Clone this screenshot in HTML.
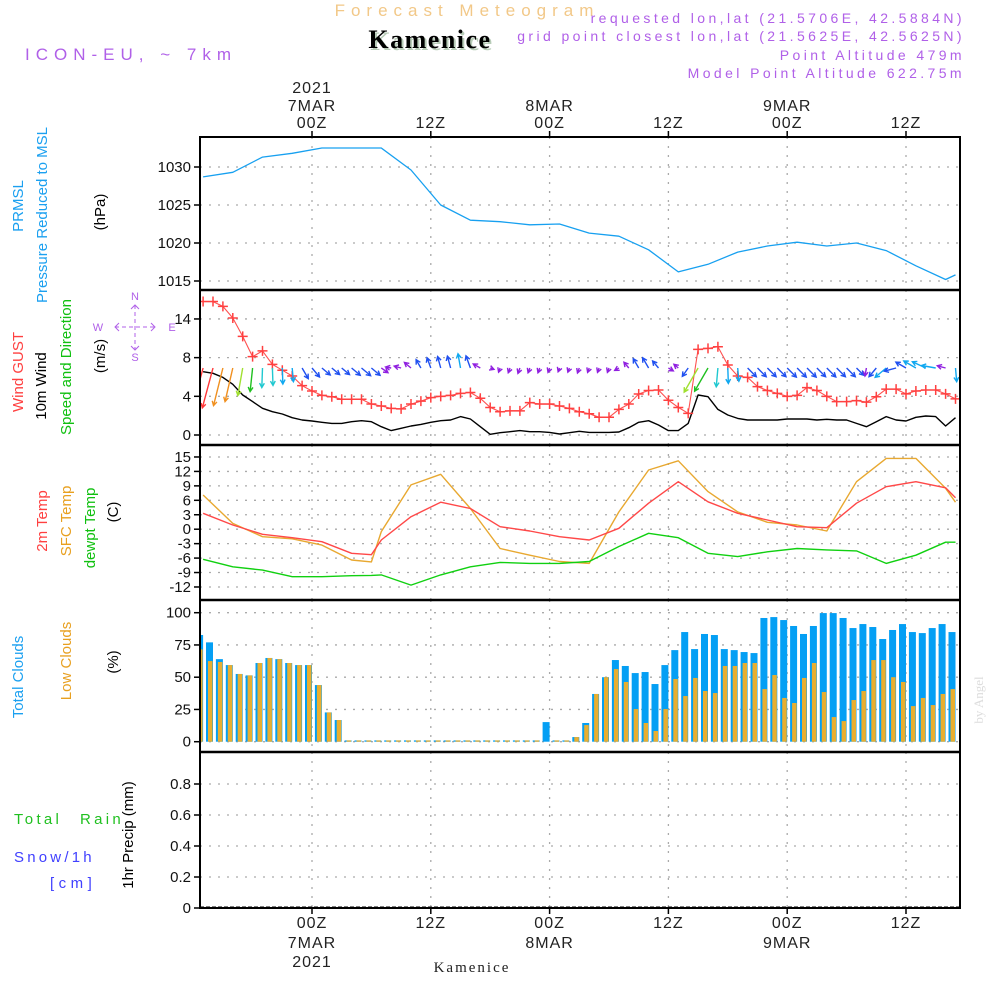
<!DOCTYPE html>
<html><head><meta charset="utf-8"><style>
html,body{margin:0;padding:0;background:#fff;}
svg text{font-family:"Liberation Sans",sans-serif;}
</style></head><body>
<svg id="chart" width="1000" height="1000" viewBox="0 0 1000 1000" xmlns="http://www.w3.org/2000/svg">
<rect width="1000" height="1000" fill="#fff"/>
<text x="467" y="16" text-anchor="middle" font-size="17" fill="#f2c888" letter-spacing="6">Forecast Meteogram</text>
<text x="965" y="23" text-anchor="end" font-size="14" fill="#b060e8" letter-spacing="3.4">requested lon,lat (21.5706E, 42.5884N)</text>
<text x="965" y="41" text-anchor="end" font-size="14" fill="#b060e8" letter-spacing="3.4">grid point closest lon,lat (21.5625E, 42.5625N)</text>
<text x="965" y="60" text-anchor="end" font-size="14" fill="#b060e8" letter-spacing="3.4">Point Altitude 479m</text>
<text x="965" y="78" text-anchor="end" font-size="14" fill="#b060e8" letter-spacing="3.4">Model Point Altitude 622.75m</text>
<text x="432" y="50" text-anchor="middle" font-size="26" font-weight="bold" fill="#b8ccb8" letter-spacing="1.5" style="font-family:'Liberation Serif',serif">Kamenice</text>
<text x="430" y="48" text-anchor="middle" font-size="26" font-weight="bold" fill="#000" letter-spacing="1.5" style="font-family:'Liberation Serif',serif">Kamenice</text>
<text x="25" y="60" font-size="17" fill="#b060e8" letter-spacing="6">ICON-EU, ~ 7km</text>
<text x="472" y="972" text-anchor="middle" font-size="15" fill="#222" letter-spacing="2" style="font-family:'Liberation Serif',serif">Kamenice</text>
<text transform="translate(983,700) rotate(-90)" text-anchor="middle" font-size="13" fill="#ddd" style="font-family:'Liberation Serif',serif">by Angel</text>

<g font-size="15">
<text transform="translate(23,206) rotate(-90)" text-anchor="middle" fill="#1ba0f0">PRMSL</text>
<text transform="translate(47,215) rotate(-90)" text-anchor="middle" fill="#1ba0f0">Pressure Reduced to MSL</text>
<text transform="translate(105,212) rotate(-90)" text-anchor="middle" fill="#000">(hPa)</text>
<text transform="translate(23,372) rotate(-90)" text-anchor="middle" fill="#ff4040">Wind GUST</text>
<text transform="translate(46,386) rotate(-90)" text-anchor="middle" fill="#000">10m Wind</text>
<text transform="translate(71,367) rotate(-90)" text-anchor="middle" fill="#10c010">Speed and Direction</text>
<text transform="translate(105,356) rotate(-90)" text-anchor="middle" fill="#000">(m/s)</text>
<text transform="translate(47,521) rotate(-90)" text-anchor="middle" fill="#ff4040">2m Temp</text>
<text transform="translate(71,521) rotate(-90)" text-anchor="middle" fill="#e8a020">SFC Temp</text>
<text transform="translate(95,528) rotate(-90)" text-anchor="middle" fill="#10c010">dewpt Temp</text>
<text transform="translate(118,512) rotate(-90)" text-anchor="middle" fill="#000">(C)</text>
<text transform="translate(23,677) rotate(-90)" text-anchor="middle" fill="#1ba0f0">Total Clouds</text>
<text transform="translate(71,661) rotate(-90)" text-anchor="middle" fill="#e8a020">Low Clouds</text>
<text transform="translate(118,662) rotate(-90)" text-anchor="middle" fill="#000">(%)</text>
<text transform="translate(133,835) rotate(-90)" text-anchor="middle" fill="#000">1hr Precip (mm)</text>
<text x="14" y="824" fill="#20c020" letter-spacing="3.3">Total</text>
<text x="80" y="824" fill="#20c020" letter-spacing="3.3">Rain</text>
<text x="14" y="862" fill="#4040ff" letter-spacing="3.2">Snow/1h</text>
<text x="50" y="888" fill="#4040ff" letter-spacing="4.5">[cm]</text>
</g>
<g fill="#b060e8" stroke="#b060e8" font-size="11">
<text x="135" y="300" text-anchor="middle" stroke="none">N</text>
<text x="135" y="361" text-anchor="middle" stroke="none">S</text>
<text x="98" y="331" text-anchor="middle" stroke="none">W</text>
<text x="172" y="331" text-anchor="middle" stroke="none">E</text>
<line x1="115" y1="327" x2="155" y2="327" stroke-dasharray="4,3" stroke-width="1"/>
<line x1="135" y1="305" x2="135" y2="350" stroke-dasharray="4,3" stroke-width="1"/>
<polyline points="119,323 115,327 119,331" fill="none" stroke-width="1"/>
<polyline points="151,323 155,327 151,331" fill="none" stroke-width="1"/>
<polyline points="131,309 135,305 139,309" fill="none" stroke-width="1"/>
<polyline points="131,346 135,350 139,346" fill="none" stroke-width="1"/>
</g>
<g id="plots"></g>
</svg>
<script>
// ---- data ----
const hours = [];
for (let h = -11; h <= 65; h++) hours.push(h);
const tempTimes = [-11,-8,-5,-2,1,4,6,7,10,13,16,19,22,25,28,31,34,37,40,43,46,49,52,55,58,61,64,65];
const pressTimes = [-11,-8,-5,-2,1,4,7,10,13,16,19,22,25,28,31,34,37,40,43,46,49,52,55,58,61,64,65];
const pressure = [1028.7,1029.3,1031.3,1031.8,1032.5,1032.5,1032.5,1029.6,1025,1023,1022.8,1022.4,1022.5,1021.3,1020.9,1019.1,1016.2,1017.2,1018.8,1019.6,1020.1,1019.6,1020,1019,1017,1015.2,1015.8];
const gust = [13.8,13.8,13.3,12.1,10.2,8.1,8.7,7.3,6.7,6.1,5.1,4.55,4.1,3.96,3.7,3.7,3.7,3.2,3.0,2.75,2.7,3.2,3.5,3.86,4.0,4.1,4.3,4.4,3.8,2.85,2.4,2.5,2.5,3.35,3.2,3.2,3.0,2.75,2.4,2.2,
 1.83,1.83,2.65,3.2,4.24,4.6,4.65,3.6,2.85,2.24,8.86,8.96,9.13,7.24,6.1,5.96,5.0,4.6,4.3,4.0,4.1,4.9,4.6,4.0,3.45,3.45,3.55,3.4,3.96,4.75,4.75,4.25,4.55,4.65,4.65,4.25,3.73];
const wind10m = [6.55,6.38,5.96,5.24,4.14,3.45,2.76,2.41,2.17,1.79,1.55,1.45,1.31,1.2,1.2,1.38,1.48,1.38,0.86,0.45,0.69,0.93,1.1,1.31,1.48,1.55,1.9,1.65,0.86,0.07,0.24,0.34,0.45,0.34,0.34,0.27,0.1,0.24,0.38,0.27,
 0.27,0.27,0.31,0.76,1.31,1.48,1.03,0.45,0.45,1.2,4.14,3.96,2.65,2.07,1.72,1.55,1.55,1.55,1.55,1.65,1.65,1.65,1.55,1.62,1.55,1.55,1.2,0.86,1.38,1.9,1.55,1.45,1.83,1.97,1.9,0.93,1.79];
const windDir = [195,195,194,193,190,186,182,178,178,175,150,140,130,130,130,130,130,130,125,280,285,310,330,340,345,345,350,340,300,110,
 200,200,200,200,200,200,200,200,200,200,200,200,240,320,330,330,320,120,310,215,210,210,185,178,175,
 135,135,135,135,135,135,135,135,135,135,135,135,190,220,230,255,300,300,295,280,285,175];
const temp2m = [3.3,0.87,-1.06,-1.76,-2.6,-5.0,-5.3,-2.24,2.6,5.6,4.3,0.52,-0.37,-1.55,-2.24,0.18,5.4,9.87,5.7,3.3,1.91,0.52,0.32,5.4,8.83,9.87,8.6,6.55];
const tempSfc = [7.1,1.2,-1.55,-2.0,-3.3,-6.4,-6.8,-0.5,9.2,11.4,4.3,-4.0,-5.4,-6.7,-7.1,3.6,12.3,14.2,7.8,3.6,1.43,0.87,-0.37,9.87,14.7,14.7,8.5,5.6];
const dewpt = [-6.25,-7.8,-8.5,-9.86,-9.86,-9.65,-9.6,-9.5,-11.6,-9.5,-7.8,-6.9,-7.1,-7.1,-6.7,-3.6,-0.85,-1.76,-5.0,-5.7,-4.7,-4.0,-4.3,-4.5,-7.1,-5.4,-2.7,-2.7];
const totalClouds = [82.7,77,64,59.4,52.5,51.4,61,64.9,64,61,59.4,59.4,43.9,22.7,16.8,
 1,1,1,1,1,1,1,1,1,1,1,1,1,1,1,1,1,1,1,1,15.2,1,1,3.6,
 14.5,37,50,63.3,58.7,53.2,54,44.7,59.4,71,85,71.8,83.5,82.7,71.8,71,69.5,68.7,95.9,96.6,94.3,89.7,83.5,89.7,99.7,99.7,95.9,88.1,91.2,88.9,79.6,86.6,91.2,85,84.2,88.1,91.2,85];
const lowClouds = [71.6,62.5,61.8,59.4,52.5,51.4,61,64.9,64,61,59.4,59.4,43.9,22.7,16.8,
 1,1,1,1,1,1,1,1,1,1,1,1,1,1,1,1,1,1,1,1,0,1,1,3.6,
 12.9,37,50,56.3,46.3,25.3,14.5,8.3,25.3,48.6,35.4,49.4,39.3,37.7,58.7,58.7,61,61,40.8,51.7,33.9,30,49.4,61,38.5,19.1,16,32.3,39.3,63.3,63.3,50,46.3,27.6,33.9,28.4,37,40.8];
const gridHours = [0,12,24,36,48,60];
const topTickLabels = [["2021","7MAR","00Z"],["","","12Z"],["","8MAR","00Z"],["","","12Z"],["","9MAR","00Z"],["","","12Z"]];
const bottomTickLabels = [["00Z","7MAR","2021"],["12Z","",""],["00Z","8MAR",""],["12Z","",""],["00Z","9MAR",""],["12Z","",""]];
const pressTicks = [1015,1020,1025,1030];
const windTicks = [0,4,8,12];
const windTickLabels = ["0","4","8","14"];
const tempTicks = [-12,-9,-6,-3,0,3,6,9,12,15];
const cloudTicks = [0,25,50,75,100];
const precipTicks = [0,0.2,0.4,0.6,0.8];
const precipTickLabels = ["0","0.2","0.4","0.6","0.8"];

// ---- axes ----
const X0 = 200, X1 = 960;
const xOf = h => 312 + h * 9.9;
const yP = v => 167 + (1030 - v) * 7.6;
const yW = v => 435 - v * 9.67;
const yT = v => 529.2 - v * 4.815;
const yC = v => 741.7 - v * 1.29;
const yR = v => 908 - v * 155;
const panels = [[137,290],[290,445],[445,600],[600,752],[752,908]];

const NS = "http://www.w3.org/2000/svg";
const root = document.getElementById('plots');
function mk(tag, attrs, parent) {
  const e = document.createElementNS(NS, tag);
  for (const k in attrs) e.setAttribute(k, attrs[k]);
  (parent || root).appendChild(e);
  return e;
}
const clip = mk('clipPath', {id: 'pc'});
mk('rect', {x: X0, y: 137, width: X1 - X0, height: 771}, clip);
const grid = mk('g', {stroke: '#aaa', 'stroke-width': 1.3, 'stroke-dasharray': '2,7'});


gridHours.forEach(h => {
  panels.forEach(p => mk('line', {x1: xOf(h), x2: xOf(h), y1: p[0], y2: p[1]}, grid));
});
function hgrid(ticks, yf, labels, name) {
  const g = mk('g', {});
  
  
  ticks.forEach((t, i) => {
    const y = yf(t);
    mk('line', {x1: X0, x2: X1, y1: y, y2: y, stroke: '#aaa', 'stroke-width': 1.3, 'stroke-dasharray': '2,7'}, g);
    mk('line', {x1: 194, x2: X0, y1: y, y2: y, stroke: '#000', 'stroke-width': 1.5}, g);
    const tx = mk('text', {x: 191, y: y + 5, 'text-anchor': 'end', 'font-size': 15, fill: '#111'}, g);
    tx.textContent = labels ? labels[i] : String(t);
  });
}
hgrid(pressTicks, yP, null, 'pressure-y-axis');
hgrid(windTicks, yW, windTickLabels, 'wind-y-axis');
hgrid(tempTicks, yT, null, 'temp-y-axis');
hgrid(cloudTicks, yC, null, 'cloud-y-axis');
hgrid(precipTicks, yR, precipTickLabels, 'precip-y-axis');

const tl = mk('g', {'font-size': 16, fill: '#222', 'text-anchor': 'middle', 'letter-spacing': 1});


gridHours.forEach((h, i) => {
  const x = xOf(h);
  [93, 111, 128].forEach((yy, j) => { if (topTickLabels[i][j]) { const t = mk('text', {x: x, y: yy}, tl); t.textContent = topTickLabels[i][j]; } });
  [928, 948, 967].forEach((yy, j) => { if (bottomTickLabels[i][j]) { const t = mk('text', {x: x, y: yy}, tl); t.textContent = bottomTickLabels[i][j]; } });
  mk('line', {x1: x, x2: x, y1: 137, y2: 131, stroke: '#000', 'stroke-width': 1.5}, tl);
  mk('line', {x1: x, x2: x, y1: 908, y2: 914, stroke: '#000', 'stroke-width': 1.5}, tl);
});

const plot = mk('g', {'clip-path': 'url(#pc)'});
function line(ts, vs, yf, color, w, name) {
  const p = mk('polyline', {points: ts.map((t, i) => xOf(t).toFixed(1) + ',' + yf(vs[i]).toFixed(1)).join(' '), fill: 'none', stroke: color, 'stroke-width': w, 'stroke-linejoin': 'round'}, plot);
  
  
  return p;
}
const cg = mk('g', {}, plot);


hours.forEach((h, i) => {
  const x = xOf(h);
  const b = mk('rect', {x: x - 7, y: yC(totalClouds[i]), width: 7, height: yC(0) - yC(totalClouds[i]), fill: '#049ff4'}, cg);
  
  
  const o = mk('rect', {x: x - 5, y: yC(lowClouds[i]), width: 4.5, height: yC(0) - yC(lowClouds[i]), fill: '#e8ae30'}, cg);
  
  
});
mk('line', {x1: X0, x2: X1, y1: 907, y2: 907, stroke: '#333', 'stroke-width': 1.2, 'stroke-dasharray': '4,2'}, plot);

line(pressTimes, pressure, yP, '#17a0f0', 1.3, 'pressure-line');
line(tempTimes, tempSfc, yT, '#e8a830', 1.4, 'sfc-temp-line');
line(tempTimes, temp2m, yT, '#ff4848', 1.4, '2m-temp-line');
line(tempTimes, dewpt, yT, '#10d010', 1.4, 'dewpt-line');
line(hours, wind10m, yW, '#000', 1.4, 'wind-10m-line');
line(hours, gust, yW, '#ff5050', 1.1, 'wind-gust-line');
const gm = mk('g', {stroke: '#ff4040', 'stroke-width': 1.5}, plot);


hours.forEach((h, i) => {
  const x = xOf(h), y = yW(gust[i]);
  mk('path', {d: `M${x-5},${y}H${x+5}M${x},${y-5}V${y+5}`}, gm);
});
function spdColor(s) {
  if (s >= 6.2) return '#ff3838';
  if (s >= 5) return '#f09020';
  if (s >= 4) return '#a0e030';
  if (s >= 3.3) return '#20c020';
  if (s >= 2.3) return '#20c8d0';
  if (s >= 1.7) return '#10a8f0';
  if (s >= 1.0) return '#2050f0';
  return '#9020e0';
}
const ag = mk('g', {'stroke-width': 1.4, fill: 'none'}, plot);


hours.forEach((h, i) => {
  const s = wind10m[i], d = windDir[i] * Math.PI / 180;
  const L = Math.max(4, 3 + 6 * s);
  const x0 = xOf(h), y0 = 368;
  const dx = Math.sin(d), dy = -Math.cos(d);
  const x1 = x0 + dx * L, y1 = y0 + dy * L;
  const a1 = d + Math.PI - 0.5, a2 = d + Math.PI + 0.5;
  const hl = 5;
  const p = mk('path', {d: `M${x0},${y0}L${x1},${y1}M${x1 + Math.sin(a1)*hl},${y1 - Math.cos(a1)*hl}L${x1},${y1}L${x1 + Math.sin(a2)*hl},${y1 - Math.cos(a2)*hl}`, stroke: spdColor(s)}, ag);
  
  
});
const fr = mk('g', {stroke: '#000', fill: 'none'});


mk('rect', {x: X0, y: 137, width: X1 - X0, height: 771, 'stroke-width': 2}, fr);
[290, 445, 600, 752].forEach(y => mk('line', {x1: X0, x2: X1, y1: y, y2: y, 'stroke-width': 2.5}, fr));
</script>
</body></html>
